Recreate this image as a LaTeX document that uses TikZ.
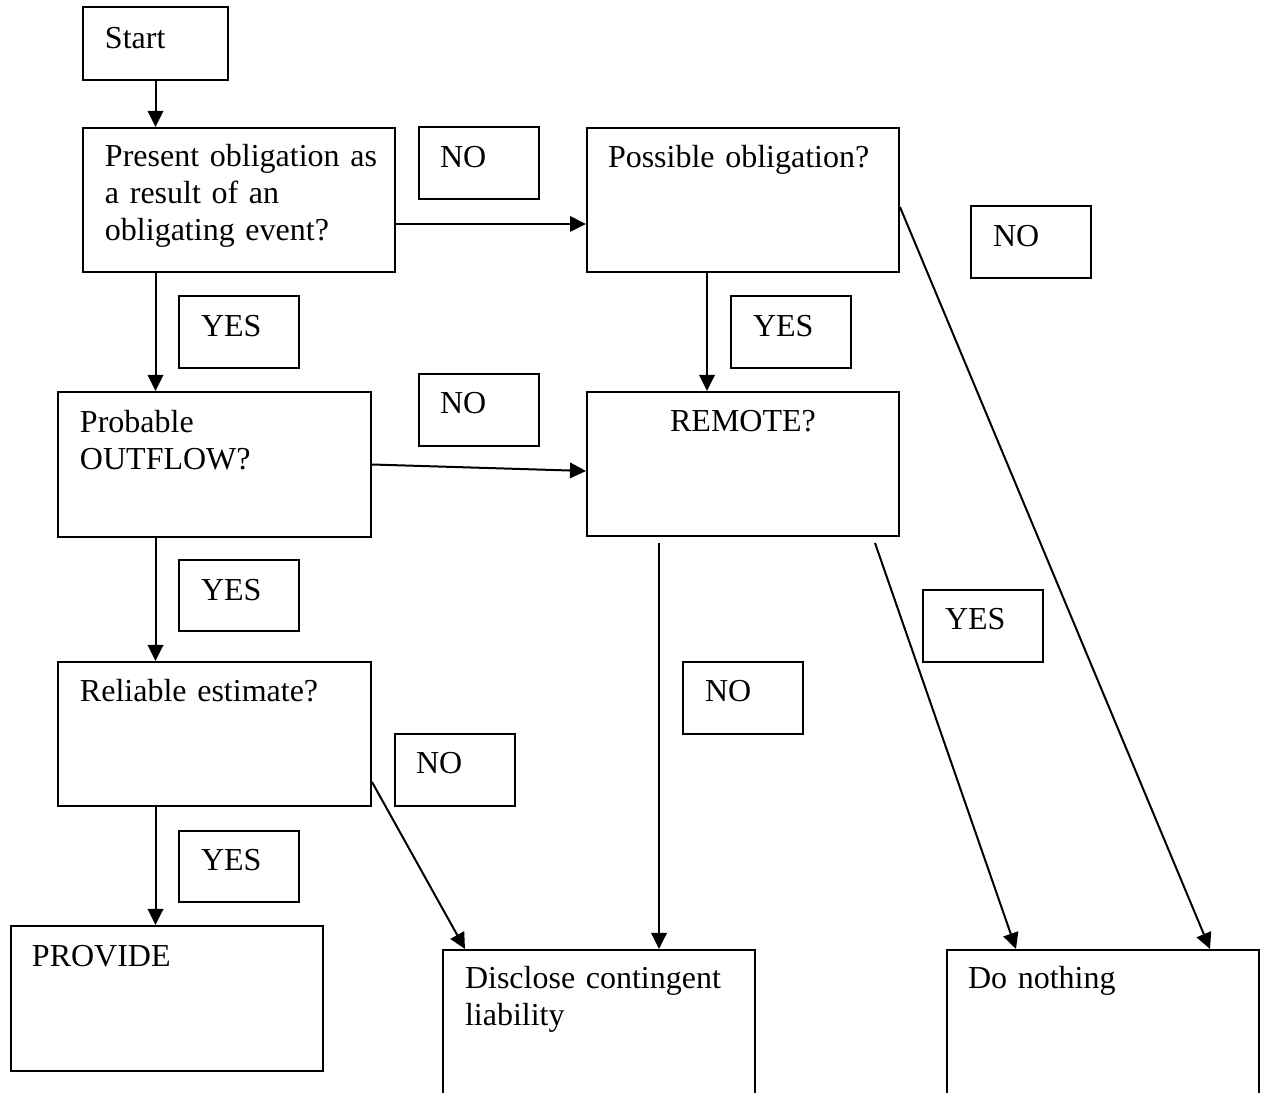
\documentclass[tikz,border=0pt]{standalone}
\usepackage{fontspec}
\setmainfont{Liberation Serif}
\usetikzlibrary{arrows.meta,calc,fit}
\begin{document}
\begin{tikzpicture}[x=0.375pt,y=-0.375pt,
  line width=0.75pt,
  box/.style={draw, rectangle, inner sep=0pt},
  txt/.style={inner sep=0pt, anchor=base west, align=left, text width=110pt,
    font=\fontsize{12pt}{13.875pt}\selectfont},
  arr/.style={-{Triangle[length=6pt,width=5.8pt]}}]
\useasboundingbox (0,0) rectangle (1261,1093);
\clip (0,0) rectangle (1261,1093);
% boxes
\node[box, fit={(83,7)(228,80)}] (start) {};
\node[box, fit={(83,128)(395,272)}] (present) {};
\node[box, fit={(419,127)(539,199)}] (no1) {};
\node[box, fit={(587,128)(899,272)}] (possible) {};
\node[box, fit={(971,206)(1091,278)}] (no2) {};
\node[box, fit={(179,296)(299,368)}] (yes1) {};
\node[box, fit={(731,296)(851,368)}] (yes2) {};
\node[box, fit={(58,392)(371,537)}] (probable) {};
\node[box, fit={(419,374)(539,446)}] (no3) {};
\node[box, fit={(587,392)(899,536)}] (remote) {};
\node[box, fit={(179,560)(299,631)}] (yes3) {};
\node[box, fit={(58,662)(371,806)}] (reliable) {};
\node[box, fit={(683,662)(803,734)}] (no4) {};
\node[box, fit={(923,590)(1043,662)}] (yes4) {};
\node[box, fit={(395,734)(515,806)}] (no5) {};
\node[box, fit={(179,831)(299,902)}] (yes5) {};
\node[box, fit={(11,926)(323,1071)}] (provide) {};
\node[box, fit={(443,950)(755,1110)}] (disclose) {};
\node[box, fit={(947,950)(1259,1110)}] (donothing) {};
% texts
\node[txt] (t-start) at (104,49) {Start};
\node[txt] (t-present) at (104,167) {Present obligation as\\a result of an\\obligating event?};
\node[txt] (t-no1) at (439,168) {NO};
\node[txt] (t-possible) at (607,168) {Possible obligation?};
\node[txt] (t-no2) at (992,247) {NO};
\node[txt] (t-yes1) at (200,337) {YES};
\node[txt] (t-yes2) at (752,337) {YES};
\node[txt] (t-probable) at (79,433) {Probable\\OUTFLOW?};
\node[txt] (t-no3) at (439,414) {NO};
\node[inner sep=0pt, anchor=base, font=\fontsize{12pt}{13.875pt}\selectfont] (t-remote) at (743,432) {REMOTE?};
\node[txt] (t-yes3) at (200,601) {YES};
\node[txt] (t-reliable) at (79,702) {Reliable estimate?};
\node[txt] (t-no4) at (704,702) {NO};
\node[txt] (t-yes4) at (944,630) {YES};
\node[txt] (t-no5) at (415,774) {NO};
\node[txt] (t-yes5) at (200,871) {YES};
\node[txt] (t-provide) at (31,967) {PROVIDE};
\node[txt] (t-disclose) at (464,989) {Disclose contingent\\liability};
\node[txt] (t-donothing) at (967,989) {Do nothing};
% connectors
\draw[arr] (start.south) -- (start.south |- present.north);
\draw[arr] (start.south |- present.south) -- (start.south |- probable.north);
\draw[arr] (start.south |- probable.south) -- (start.south |- reliable.north);
\draw[arr] (start.south |- reliable.south) -- (start.south |- provide.north);
\draw[arr] ($(present.east)+(0,24)$) coordinate (c1) -- (c1 -| possible.west);
\draw[arr] ($(possible.south)+(-36,0)$) coordinate (c2) -- (c2 |- remote.north);
\draw[arr] (probable.east) -- ($(remote.west)+(0,7)$);
\draw[arr] ($(remote.south)+(-84,6)$) coordinate (c3) -- (c3 |- disclose.north);
\draw[arr] ($(remote.south)+(132,6)$) -- ($(donothing.north west)+(70,0)$);
\draw[arr] ($(possible.east)+(0,7)$) -- ($(donothing.north west)+(264,0)$);
\draw[arr] ($(reliable.east)+(0,48)$) -- ($(disclose.north west)+(23,0)$);
\end{tikzpicture}
\end{document}
